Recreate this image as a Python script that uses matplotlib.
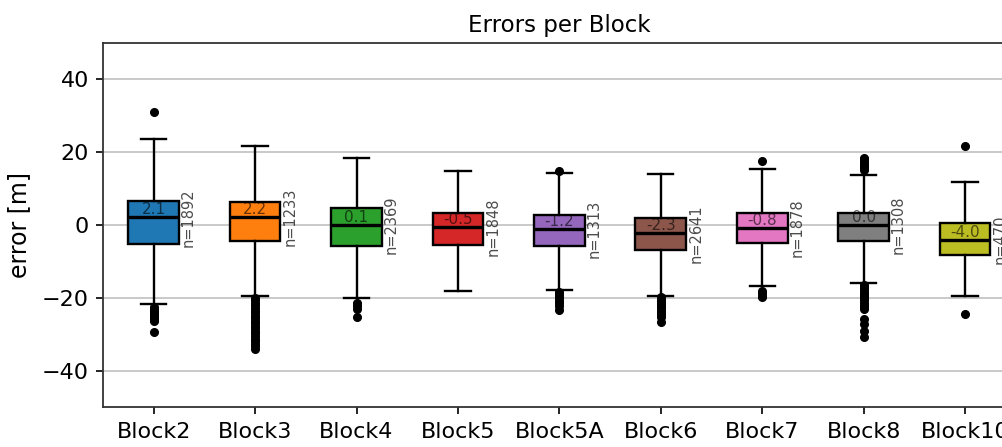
import matplotlib
matplotlib.use("Agg")
import matplotlib.pyplot as plt
import numpy as np

# Per-block error statistics [m]
blocks = ["Block2", "Block3", "Block4", "Block5", "Block5A",
          "Block6", "Block7", "Block8", "Block10"]
medians = [2.1, 2.2, 0.1, -0.5, -1.2, -2.3, -0.8, 0.0, -4.0]
q1 = [-5.2, -4.3, -5.8, -5.5, -5.8, -6.8, -5.0, -4.3, -8.3]
q3 = [6.5, 6.3, 4.6, 3.2, 2.6, 1.8, 3.2, 3.4, 0.4]
whislo = [-21.8, -19.5, -20.1, -18.2, -17.8, -19.4, -16.7, -15.9, -19.5]
whishi = [23.6, 21.6, 18.5, 14.8, 14.2, 13.9, 15.4, 13.7, 11.9]
counts = [1892, 1233, 2369, 1848, 1313, 2641, 1878, 1308, 470]
fliers = [
    [30.9, -22.5, -23.0, -23.5, -24.0, -24.5, -25.0, -25.5, -26.0, -26.5, -29.4],
    [-20.0, -20.7, -21.4, -22.1, -22.8, -23.5, -24.2, -24.9, -25.6, -26.3,
     -27.0, -27.7, -28.4, -29.1, -29.8, -30.5, -31.2, -31.9, -32.6, -33.3, -34.0],
    [-21.3, -21.8, -22.3, -23.0, -25.2],
    [],
    [14.9, -18.4, -19.0, -19.6, -20.2, -20.8, -21.5, -22.2, -23.4],
    [-19.9, -20.5, -21.1, -21.7, -22.3, -22.9, -23.5, -24.1, -24.7, -25.3, -26.6],
    [17.6, -18.2, -18.8, -19.4, -19.8],
    [15.0, 15.6, 16.2, 16.8, 17.4, 18.0, 18.5,
     -16.5, -17.1, -17.7, -18.3, -18.9, -19.5, -20.1, -20.7, -21.3, -21.9, -22.5, -23.0,
     -25.8, -27.1, -29.0, -30.8],
    [21.7, -24.4],
]
box_colors = ["tab:blue", "tab:orange", "tab:green", "tab:red", "tab:purple",
              "tab:brown", "tab:pink", "tab:gray", "tab:olive"]

stats = []
for i, name in enumerate(blocks):
    stats.append(dict(label=name, med=medians[i], q1=q1[i], q3=q3[i],
                      whislo=whislo[i], whishi=whishi[i],
                      fliers=np.array(fliers[i])))

fig = plt.figure(figsize=(10.03, 4.47), dpi=100)
ax = fig.add_axes([0.1027, 0.0895, 0.910, 0.8145])

positions = np.arange(1, len(blocks) + 1)
lw = 1.7
bp = ax.bxp(stats, positions=positions, widths=0.5, patch_artist=True,
            boxprops=dict(linewidth=lw, edgecolor="black"),
            whiskerprops=dict(linewidth=lw, color="black"),
            capprops=dict(linewidth=lw, color="black"),
            medianprops=dict(linewidth=2.4, color="black"),
            flierprops=dict(marker="o", markersize=5.5, markerfacecolor="black",
                            markeredgecolor="black"))
for patch, c in zip(bp["boxes"], box_colors):
    patch.set_facecolor(c)

# Median value and sample size annotations
for pos, med, n in zip(positions, medians, counts):
    ax.text(pos, med, f"{med:.1f}", ha="center", va="bottom",
            fontsize=11, color="black", alpha=0.6)
    ax.text(pos + 0.27, med, f"n={n}", ha="left", va="center", rotation=90,
            fontsize=10.5, color="black", alpha=0.7)

ax.set_xlim(0.5, len(blocks) + 0.5)
ax.set_ylim(-50, 50)
ax.set_yticks([-40, -20, 0, 20, 40])
ax.set_xticks(positions)
ax.set_xticklabels(blocks)
ax.tick_params(axis="both", labelsize=16, length=5, width=1.2)
ax.tick_params(axis="x", pad=6)
ax.tick_params(axis="y", pad=5)
ax.yaxis.grid(True, color="#c0c0c0", linewidth=1.2)
ax.set_axisbelow(True)
for s in ax.spines.values():
    s.set_linewidth(1.3)
    s.set_color("#333333")
ax.set_ylabel("error [m]", fontsize=17, labelpad=8)
ax.set_title("Errors per Block", fontsize=16.5, pad=8)

fig.savefig("out.png", dpi=100)
